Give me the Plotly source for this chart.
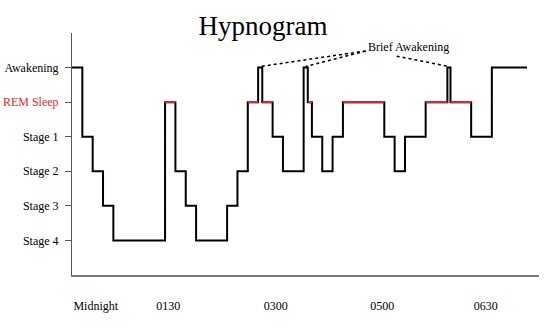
import plotly.graph_objects as go

# Sleep stage per segment, with segment boundaries in minutes after midnight
boundaries = [0, 10, 20, 30, 40, 90, 100, 110, 120, 150, 160, 170, 180, 184, 194,
              204, 224, 228, 232, 242, 252, 262, 302, 312, 322, 342, 363, 366, 386,
              406, 440]
stages = ["Awakening", "Stage 1", "Stage 2", "Stage 3", "Stage 4", "REM Sleep",
          "Stage 2", "Stage 3", "Stage 4", "Stage 3", "Stage 2", "REM Sleep",
          "Awakening", "REM Sleep", "Stage 1", "Stage 2", "Awakening", "REM Sleep",
          "Stage 1", "Stage 2", "Stage 1", "REM Sleep", "Stage 1", "Stage 2",
          "Stage 1", "REM Sleep", "Awakening", "REM Sleep", "Stage 1", "Awakening"]

stage_order = ["Stage 4", "Stage 3", "Stage 2", "Stage 1", "REM Sleep", "Awakening"]
time_labels = ["Midnight", "0130", "0300", "0500", "0630"]
time_label_minutes = [23, 93, 197, 300, 400]

RED = "#e8262a"
FONT = "Liberation Serif, Times New Roman, serif"

level = {s: i + 1 for i, s in enumerate(stage_order)}
y_levels = [level[s] for s in stages]

fig = go.Figure()

# main step trace
fig.add_trace(go.Scatter(
    x=boundaries, y=y_levels + [y_levels[-1]],
    mode="lines", line=dict(color="black", width=2, shape="hv"),
    hoverinfo="skip", showlegend=False))

# REM periods highlighted in red
rx, ry = [], []
for i, s in enumerate(stages):
    if s == "REM Sleep":
        rx += [boundaries[i], boundaries[i + 1], None]
        ry += [level[s], level[s], None]
fig.add_trace(go.Scatter(x=rx, y=ry, mode="lines",
                         line=dict(color=RED, width=2),
                         hoverinfo="skip", showlegend=False))

# brief awakenings (short wake bouts) annotated with dotted leaders
brief = [(boundaries[i] + boundaries[i + 1]) / 2 for i, s in enumerate(stages)
         if s == "Awakening" and boundaries[i + 1] - boundaries[i] < 5]
text_x, text_y = 325, 6.6
anchors = [(284, 6.48), (284, 6.48), (314, 6.33)]
for (ax_, ay_), bx in zip(anchors, brief):
    fig.add_shape(type="line", x0=ax_, y0=ay_, x1=bx, y1=level["Awakening"] + 0.03,
                  line=dict(color="black", width=1.5, dash="dot"))
fig.add_annotation(x=text_x, y=text_y, text="Brief Awakening", showarrow=False,
                   font=dict(family=FONT, size=12, color="black"))

ticktext = [f"<span style='color:{RED}'>{s}</span>" if s == "REM Sleep" else s
            for s in stage_order]

fig.update_layout(
    width=555, height=334,
    margin=dict(l=72, r=16, t=33, b=59),
    paper_bgcolor="white", plot_bgcolor="white",
    font=dict(family=FONT, size=12, color="black"),
    title=dict(text="Hypnogram", x=0.474, xref="container", xanchor="center",
               y=1 - 26 / 334, yref="container", yanchor="middle",
               font=dict(family=FONT, size=27, color="black")),
    xaxis=dict(range=[0, 451.6], showgrid=False, zeroline=False, automargin=False,
               showline=True, linecolor="#777", linewidth=1.5,
               tickvals=time_label_minutes, ticktext=time_labels,
               ticks="", ticklabelstandoff=19, tickfont=dict(size=12)),
    yaxis=dict(range=[0, 7], showgrid=False, zeroline=False, automargin=False,
               showline=True, linecolor="#555", linewidth=1,
               tickvals=list(range(1, 7)), ticktext=ticktext,
               ticks="outside", ticklen=6, tickcolor="#555", tickwidth=1,
               ticklabelstandoff=4, tickfont=dict(size=12)),
)

fig.write_html("out.html")
